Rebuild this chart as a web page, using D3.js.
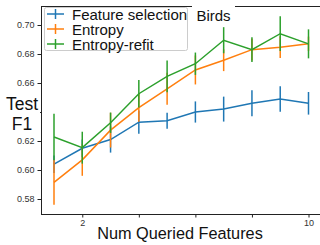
<!DOCTYPE html>
<html lang="en">
<head>
    <meta charset="UTF-8">
    <title>Birds</title>
    <style>
        body { margin: 0; background: #fff; }
        svg { display: block; }
        .axis text { font-family: "Liberation Sans", Arial, sans-serif; font-size: 9px; fill: #333; }
        .axis path, .axis line { stroke: #222; }
        .label { font-family: "Liberation Sans", Arial, sans-serif; fill: #111; }
    </style>
    <script src="https://cdn.jsdelivr.net/npm/d3@7"></script>
</head>
<body>
<script>
    // data
    const numFeatures = [1, 2, 3, 4, 5, 6, 7, 8, 9, 10];
    const featSelMean = [0.604, 0.615, 0.621, 0.633, 0.634, 0.640, 0.642, 0.646, 0.649, 0.646];
    const featSelErr  = [0.006, 0.006, 0.009, 0.008, 0.0055, 0.0073, 0.0086, 0.009, 0.0088, 0.0078];
    const entropyMean = [0.5915, 0.607, 0.6275, 0.643, 0.656, 0.669, 0.6757, 0.683, 0.6847, 0.687];
    const entropyErr  = [0.0155, 0.011, 0.012, 0.0097, 0.011, 0.01, 0.0075, 0.0075, 0.0075, 0.005];
    const refitMean   = [0.6228, 0.6154, 0.6326, 0.6526, 0.6646, 0.6733, 0.6895, 0.683, 0.694, 0.687];
    const refitErr    = [0.016, 0.011, 0.007, 0.0095, 0.011, 0.0077, 0.009, 0.0085, 0.012, 0.01];
    const seriesNames = ["Feature selection", "Entropy", "Entropy-refit"];
    const yTicks = [0.58, 0.60, 0.62, 0.64, 0.66, 0.68, 0.70];
    const yHiddenTick = 0.64; // covered by the "Test F1" label in the picture
    const xTicks = [2, 4, 6, 8, 10];
    const xTickLabels = {2: "2", 10: "10"};

    const width = 320, height = 245;
    const plotLeft = 41, plotTop = 6, plotBottom = 214;

    const svg = d3.select("body").append("svg")
        .attr("width", width).attr("height", height)
        .attr("viewBox", `0,0,${width},${height}`);

    const xScale = d3.scaleLinear().domain([1, 10]).range([54, 308.5]);
    const yScale = d3.scaleLinear().domain([0.58, 0.70]).range([199, 25]);

    const colors = ["#1f77b4", "#ff7f0e", "#2ca02c"];
    const series = [
        {name: seriesNames[0], mean: featSelMean, err: featSelErr, color: colors[0]},
        {name: seriesNames[1], mean: entropyMean, err: entropyErr, color: colors[1]},
        {name: seriesNames[2], mean: refitMean, err: refitErr, color: colors[2]}
    ];

    // axes
    svg.append("g").attr("class", "axis")
        .attr("transform", `translate(0,${plotBottom})`)
        .call(d3.axisBottom(xScale).tickValues(xTicks).tickSize(3.5).tickPadding(2)
            .tickFormat(d => xTickLabels[d] || ""))
        .call(g => g.select(".domain").attr("d", `M${plotLeft},0.5H${width}`));

    const fmt = d3.format(".2f");
    svg.append("g").attr("class", "axis")
        .attr("transform", `translate(${plotLeft},0)`)
        .call(d3.axisLeft(yScale).tickValues(yTicks).tickSize(3.5).tickPadding(3)
            .tickFormat(d => Math.abs(d - yHiddenTick) < 1e-9 ? "" : fmt(d)))
        .call(g => g.select(".domain").attr("d", `M0.5,${plotBottom}V${plotTop}`));

    // top spine
    svg.append("line").attr("x1", plotLeft).attr("x2", width)
        .attr("y1", plotTop + 0.5).attr("y2", plotTop + 0.5)
        .attr("stroke", "#222").attr("stroke-width", 1);

    // lines with error bars
    const lineGen = d3.line().x(d => xScale(d.x)).y(d => yScale(d.y));
    series.forEach(s => {
        const pts = numFeatures.map((x, i) => ({x: x, y: s.mean[i], e: s.err[i]}));
        const g = svg.append("g");
        g.append("path").datum(pts)
            .attr("d", lineGen)
            .attr("fill", "none")
            .attr("stroke", s.color)
            .attr("stroke-width", 1.5);
        g.selectAll("line").data(pts).enter().append("line")
            .attr("x1", d => xScale(d.x)).attr("x2", d => xScale(d.x))
            .attr("y1", d => yScale(d.y - d.e)).attr("y2", d => yScale(d.y + d.e))
            .attr("stroke", s.color)
            .attr("stroke-width", 1.5);
    });

    // title with white box
    svg.append("rect").attr("x", 192).attr("y", 0).attr("width", 43).attr("height", 24).attr("fill", "#fff");
    svg.append("text").attr("class", "label")
        .attr("x", 213.5).attr("y", 21)
        .attr("text-anchor", "middle")
        .style("font-size", "15px")
        .text("Birds");

    // legend
    svg.append("rect")
        .attr("x", 44.5).attr("y", 7.5).attr("width", 143).attr("height", 43)
        .attr("rx", 2)
        .attr("fill", "#fff").attr("fill-opacity", 0.9)
        .attr("stroke", "#ccc");
    const legend = svg.append("g")
        .selectAll("g").data(series).enter().append("g")
        .attr("transform", (d, i) => `translate(0,${14 + i * 15})`);
    legend.append("line")
        .attr("x1", 47).attr("x2", 64).attr("y1", 0).attr("y2", 0)
        .attr("stroke", d => d.color).attr("stroke-width", 1.5);
    legend.append("line")
        .attr("x1", 55.5).attr("x2", 55.5).attr("y1", -5).attr("y2", 5)
        .attr("stroke", d => d.color).attr("stroke-width", 1.5);
    legend.append("text").attr("class", "label")
        .attr("x", 72).attr("y", 5.5)
        .style("font-size", "15px")
        .text(d => d.name);

    // y label sits on a white box that hides the 0.64 tick
    svg.append("rect").attr("x", 4).attr("y", 94).attr("width", 36).attr("height", 40).attr("fill", "#fff");
    const yl = svg.append("text").attr("class", "label")
        .attr("text-anchor", "middle")
        .style("font-size", "17.5px");
    yl.append("tspan").attr("x", 22).attr("y", 110).text("Test");
    yl.append("tspan").attr("x", 22).attr("y", 130).text("F1");

    svg.append("text").attr("class", "label")
        .attr("x", 180).attr("y", 238.5)
        .attr("text-anchor", "middle")
        .style("font-size", "16.3px")
        .text("Num Queried Features");
</script>
</body>
</html>
